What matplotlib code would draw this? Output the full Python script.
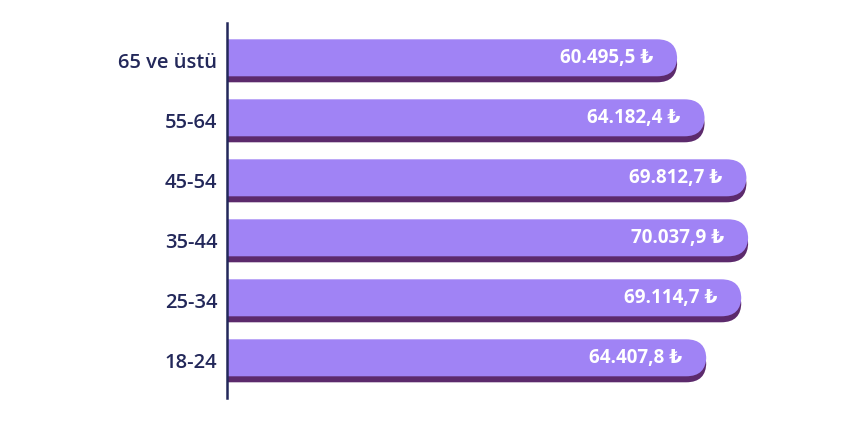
import matplotlib
matplotlib.use("Agg")
import matplotlib.pyplot as plt
from matplotlib.patches import FancyBboxPatch

# age groups, bottom to top
categories = ["18-24", "25-34", "35-44", "45-54", "55-64", "65 ve üstü"]
values = [64407.8, 69114.7, 70037.9, 69812.7, 64182.4, 60495.5]

LIGHT = "#a083f5"
DARK = "#5c2a6c"
NAVY = "#23285a"
FONT = ["Open Sans", "DejaVu Sans"]

def tr_fmt(v):
    s = "{:,.1f}".format(v)
    return s.replace(",", "X").replace(".", ",").replace("X", ".") + " \u20ba"

W, H = 860, 423
fig = plt.figure(figsize=(W / 100, H / 100), dpi=100)
ax_l, ax_r, ax_t, ax_b = 227, 800, 23, 398
ax = fig.add_axes([ax_l / W, 1 - ax_b / H, (ax_r - ax_l) / W, (ax_b - ax_t) / H])

xmax = 77000
ymin, ymax = -0.62, 5.63
ax.set_xlim(0, xmax)
ax.set_ylim(ymin, ymax)

xu_per_px = xmax / (ax_r - ax_l)
yu_per_px = (ymax - ymin) / (ax_b - ax_t)
aspect = yu_per_px / xu_per_px

bar_h = 37 * yu_per_px
shift = 6 * yu_per_px
r = 20 * xu_per_px

for i, v in enumerate(values):
    for col, dy, z in [(DARK, -shift / 2, 2), (LIGHT, shift / 2, 3)]:
        p = FancyBboxPatch((-r * 2, i + dy - bar_h / 2), v + r * 2, bar_h,
                           boxstyle="round,pad=0,rounding_size=%f" % r,
                           mutation_aspect=aspect, fc=col, ec="none", zorder=z)
        ax.add_patch(p)
    ax.text(v - 24 * xu_per_px, i + shift / 2, tr_fmt(v), ha="right", va="center",
            color="white", fontsize=13.5, fontweight="bold",
            family=FONT, zorder=4)

ax.set_yticks(range(len(categories)))
ax.set_yticklabels(categories, fontsize=14.5, color=NAVY, fontweight="semibold",
                   family=FONT)
ax.tick_params(axis="y", length=0, pad=7)
ax.set_xticks([])
for s in ["top", "right", "bottom"]:
    ax.spines[s].set_visible(False)
ax.spines["left"].set_color(NAVY)
ax.spines["left"].set_linewidth(1.8)
ax.spines["left"].set_zorder(5)

fig.savefig("out.png", dpi=100)
